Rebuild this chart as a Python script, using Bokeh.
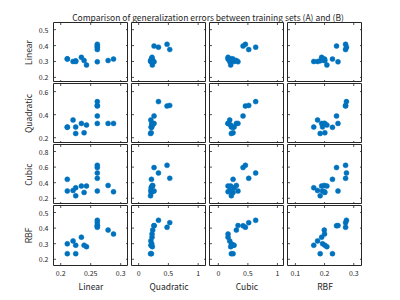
import math
from bokeh.plotting import figure
from bokeh.layouts import column, gridplot
from bokeh.models import Range1d, FixedTicker, Label, LinearAxis, ColumnDataSource
from bokeh.embed import file_html
from bokeh.resources import INLINE

# ---------------- data ----------------
names = ["Linear", "Quadratic", "Cubic", "RBF"]
title_text = "Comparison of generalization errors between training sets (A) and (B)"

# training set (A): x variables
a_linear    = [0.211, 0.211, 0.2206, 0.225, 0.225, 0.2345, 0.239, 0.243, 0.261, 0.279, 0.288, 0.261, 0.261, 0.261, 0.261]
a_quadratic = [0.220, 0.215, 0.205, 0.210, 0.200, 0.225, 0.210, 0.230, 0.259, 0.236, 0.225, 0.259, 0.333, 0.477, 0.523]
a_cubic     = [0.220, 0.249, 0.192, 0.266, 0.220, 0.164, 0.249, 0.209, 0.333, 0.305, 0.164, 0.418, 0.632, 0.458, 0.514]
a_rbf       = [0.193, 0.227, 0.176, 0.163, 0.185, 0.190, 0.201, 0.208, 0.246, 0.199, 0.200, 0.241, 0.275, 0.272, 0.272]

# training set (B): y variables
b_linear    = [0.317, 0.315, 0.300, 0.300, 0.304, 0.326, 0.306, 0.278, 0.298, 0.306, 0.315, 0.397, 0.390, 0.408, 0.375]
b_quadratic = [0.293, 0.290, 0.354, 0.293, 0.237, 0.324, 0.243, 0.310, 0.324, 0.324, 0.324, 0.389, 0.513, 0.475, 0.480]
b_cubic     = [0.293, 0.443, 0.300, 0.335, 0.232, 0.357, 0.275, 0.357, 0.293, 0.365, 0.284, 0.594, 0.525, 0.623, 0.456]
b_rbf       = [0.299, 0.236, 0.318, 0.290, 0.236, 0.342, 0.290, 0.281, 0.416, 0.387, 0.362, 0.415, 0.450, 0.405, 0.435]

x_tick_values = {"Linear": [0.2, 0.25, 0.3], "Quadratic": [0, 0.5, 1], "Cubic": [0, 0.5, 1], "RBF": [0.1, 0.2, 0.3]}
y_tick_values = {"Linear": [0.2, 0.3, 0.4, 0.5], "Quadratic": [0.2, 0.4, 0.6],
                 "Cubic": [0.2, 0.4, 0.6, 0.8], "RBF": [0.2, 0.3, 0.4, 0.5]}

# ---------------- config ----------------
A = {"Linear": a_linear, "Quadratic": a_quadratic, "Cubic": a_cubic, "RBF": a_rbf}
B = {"Linear": b_linear, "Quadratic": b_quadratic, "Cubic": b_cubic, "RBF": b_rbf}
x_limits = {"Linear": (0.188, 0.313), "Quadratic": (-0.12, 1.14), "Cubic": (-0.15, 1.12), "RBF": (0.073, 0.33)}
y_limits = {"Linear": (0.168, 0.545), "Quadratic": (0.15, 0.67), "Cubic": (0.12, 0.89), "RBF": (0.16, 0.545)}

BLUE = "#0072BD"
AX = "#262626"
FONT = "Noto Sans CJK JP"
FW, FH = 75, 60
LEFT = 53
BOTTOM = 32
TITLE_H = 22


def style_axis(ax):
    ax.axis_line_color = None
    ax.major_tick_in = 0
    ax.major_tick_out = 0
    ax.minor_tick_line_color = None
    ax.major_tick_line_color = None
    ax.major_label_text_color = AX
    ax.major_label_text_font = FONT
    ax.major_label_text_font_size = "7px"
    ax.axis_label_text_color = AX
    ax.axis_label_text_font = FONT
    ax.axis_label_text_font_style = "normal"
    ax.axis_label_text_font_size = "8.5px"


rows = []
for i, yn in enumerate(names):
    row = []
    for j, xn in enumerate(names):
        left = LEFT if j == 0 else 3
        top = 0 if i == 0 else 1
        bottom = BOTTOM if i == 3 else 0
        x0, x1 = x_limits[xn]
        y0, y1 = y_limits[yn]
        p = figure(frame_width=FW, frame_height=FH,
                   x_range=Range1d(x0, x1), y_range=Range1d(y0, y1),
                   x_axis_location=None, y_axis_location=None,
                   toolbar_location=None, output_backend="svg",
                   min_border_left=left, min_border_right=0,
                   min_border_top=top, min_border_bottom=bottom,
                   outline_line_color=AX, outline_line_width=1,
                   background_fill_color="white", border_fill_color="white")
        p.grid.visible = False

        if i == 3:
            xa = LinearAxis(ticker=FixedTicker(ticks=x_tick_values[xn]))
            style_axis(xa)
            xa.major_label_standoff = 4
            xa.axis_label = xn
            xa.axis_label_standoff = 1
            p.add_layout(xa, "below")

        if j == 0:
            ya = LinearAxis(ticker=FixedTicker(ticks=y_tick_values[yn]))
            style_axis(ya)
            ya.major_label_standoff = 5
            ya.axis_label = yn
            ya.axis_label_standoff = 2
            p.add_layout(ya, "left")

        # inward box ticks on all four sides (clipped half-dashes at the frame edges)
        xt = x_tick_values[xn]
        yt = y_tick_values[yn]
        p.scatter(x=xt + xt, y=[y0] * len(xt) + [y1] * len(xt), marker="dash", angle=math.pi / 2,
                  size=5, line_color=AX, line_width=0.8)
        p.scatter(x=[x0] * len(yt) + [x1] * len(yt), y=yt + yt, marker="dash",
                  size=5, line_color=AX, line_width=0.8)

        src = ColumnDataSource(dict(x=A[xn], y=B[yn]))
        p.scatter("x", "y", source=src, size=5, marker="circle",
                  fill_color=BLUE, line_color=BLUE, line_width=0.5)
        row.append(p)
    rows.append(row)

grid = gridplot(rows, toolbar_location=None)

tf = figure(frame_width=4 * FW + 3 * 3, frame_height=TITLE_H,
            x_range=Range1d(0, 1), y_range=Range1d(0, 1),
            x_axis_location=None, y_axis_location=None,
            toolbar_location=None, output_backend="svg",
            min_border_left=LEFT, min_border_right=0, min_border_top=0, min_border_bottom=0,
            outline_line_color=None)
tf.grid.visible = False
tf.add_layout(Label(x=0.5, y=0.27, text=title_text, text_align="center", text_baseline="middle",
                    text_font_size="8.5px", text_color=AX, text_font=FONT))

layout = column(tf, grid)
open("out.html", "w").write(file_html(layout, INLINE))
